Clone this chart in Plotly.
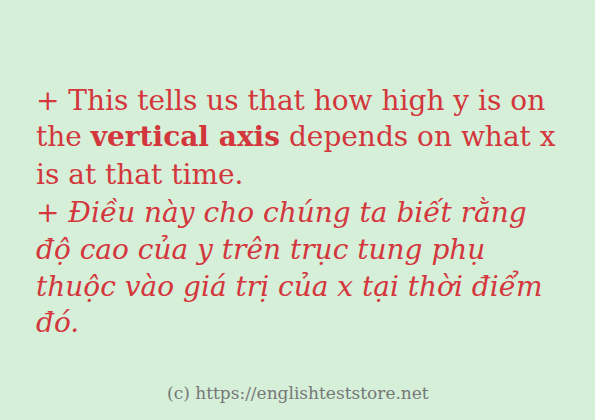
import plotly.graph_objects as go

# text lines of the card, top to bottom
lines = [
    "+ This tells us that how high y is on",
    "the <b>vertical axis</b> depends on what x",
    "is at that time.",
    "<i>+ Điều này cho chúng ta biết rằng</i>",
    "<i>độ cao của y trên trục tung phụ</i>",
    "<i>thuộc vào giá trị của x tại thời điểm</i>",
    "<i>đó.</i>",
]
line_y = [100, 137, 174, 212, 249, 286, 322]
footer = "(c) https://englishteststore.net"

W, H = 595, 420
BG = "#d5efd9"
fig = go.Figure()

for txt, y in zip(lines, line_y):
    fig.add_annotation(
        text=txt, x=34 / W, y=1 - y / H, xref="paper", yref="paper",
        xanchor="left", yanchor="middle", showarrow=False,
        font=dict(family="DejaVu Serif", size=28, color="#d3373c"),
    )

fig.add_annotation(
    text=footer, x=0.5, y=1 - 393 / H, xref="paper", yref="paper",
    xanchor="center", yanchor="middle", showarrow=False,
    font=dict(family="DejaVu Serif", size=17, color="#777777"),
)

fig.update_layout(
    width=W, height=H, margin=dict(l=0, r=0, t=0, b=0),
    paper_bgcolor=BG, plot_bgcolor=BG,
    xaxis=dict(visible=False), yaxis=dict(visible=False),
)
fig.write_html(
    "out.html",
    config={"displayModeBar": False},
    post_script="document.body.style.margin='0';document.body.style.background='%s';" % BG,
)
